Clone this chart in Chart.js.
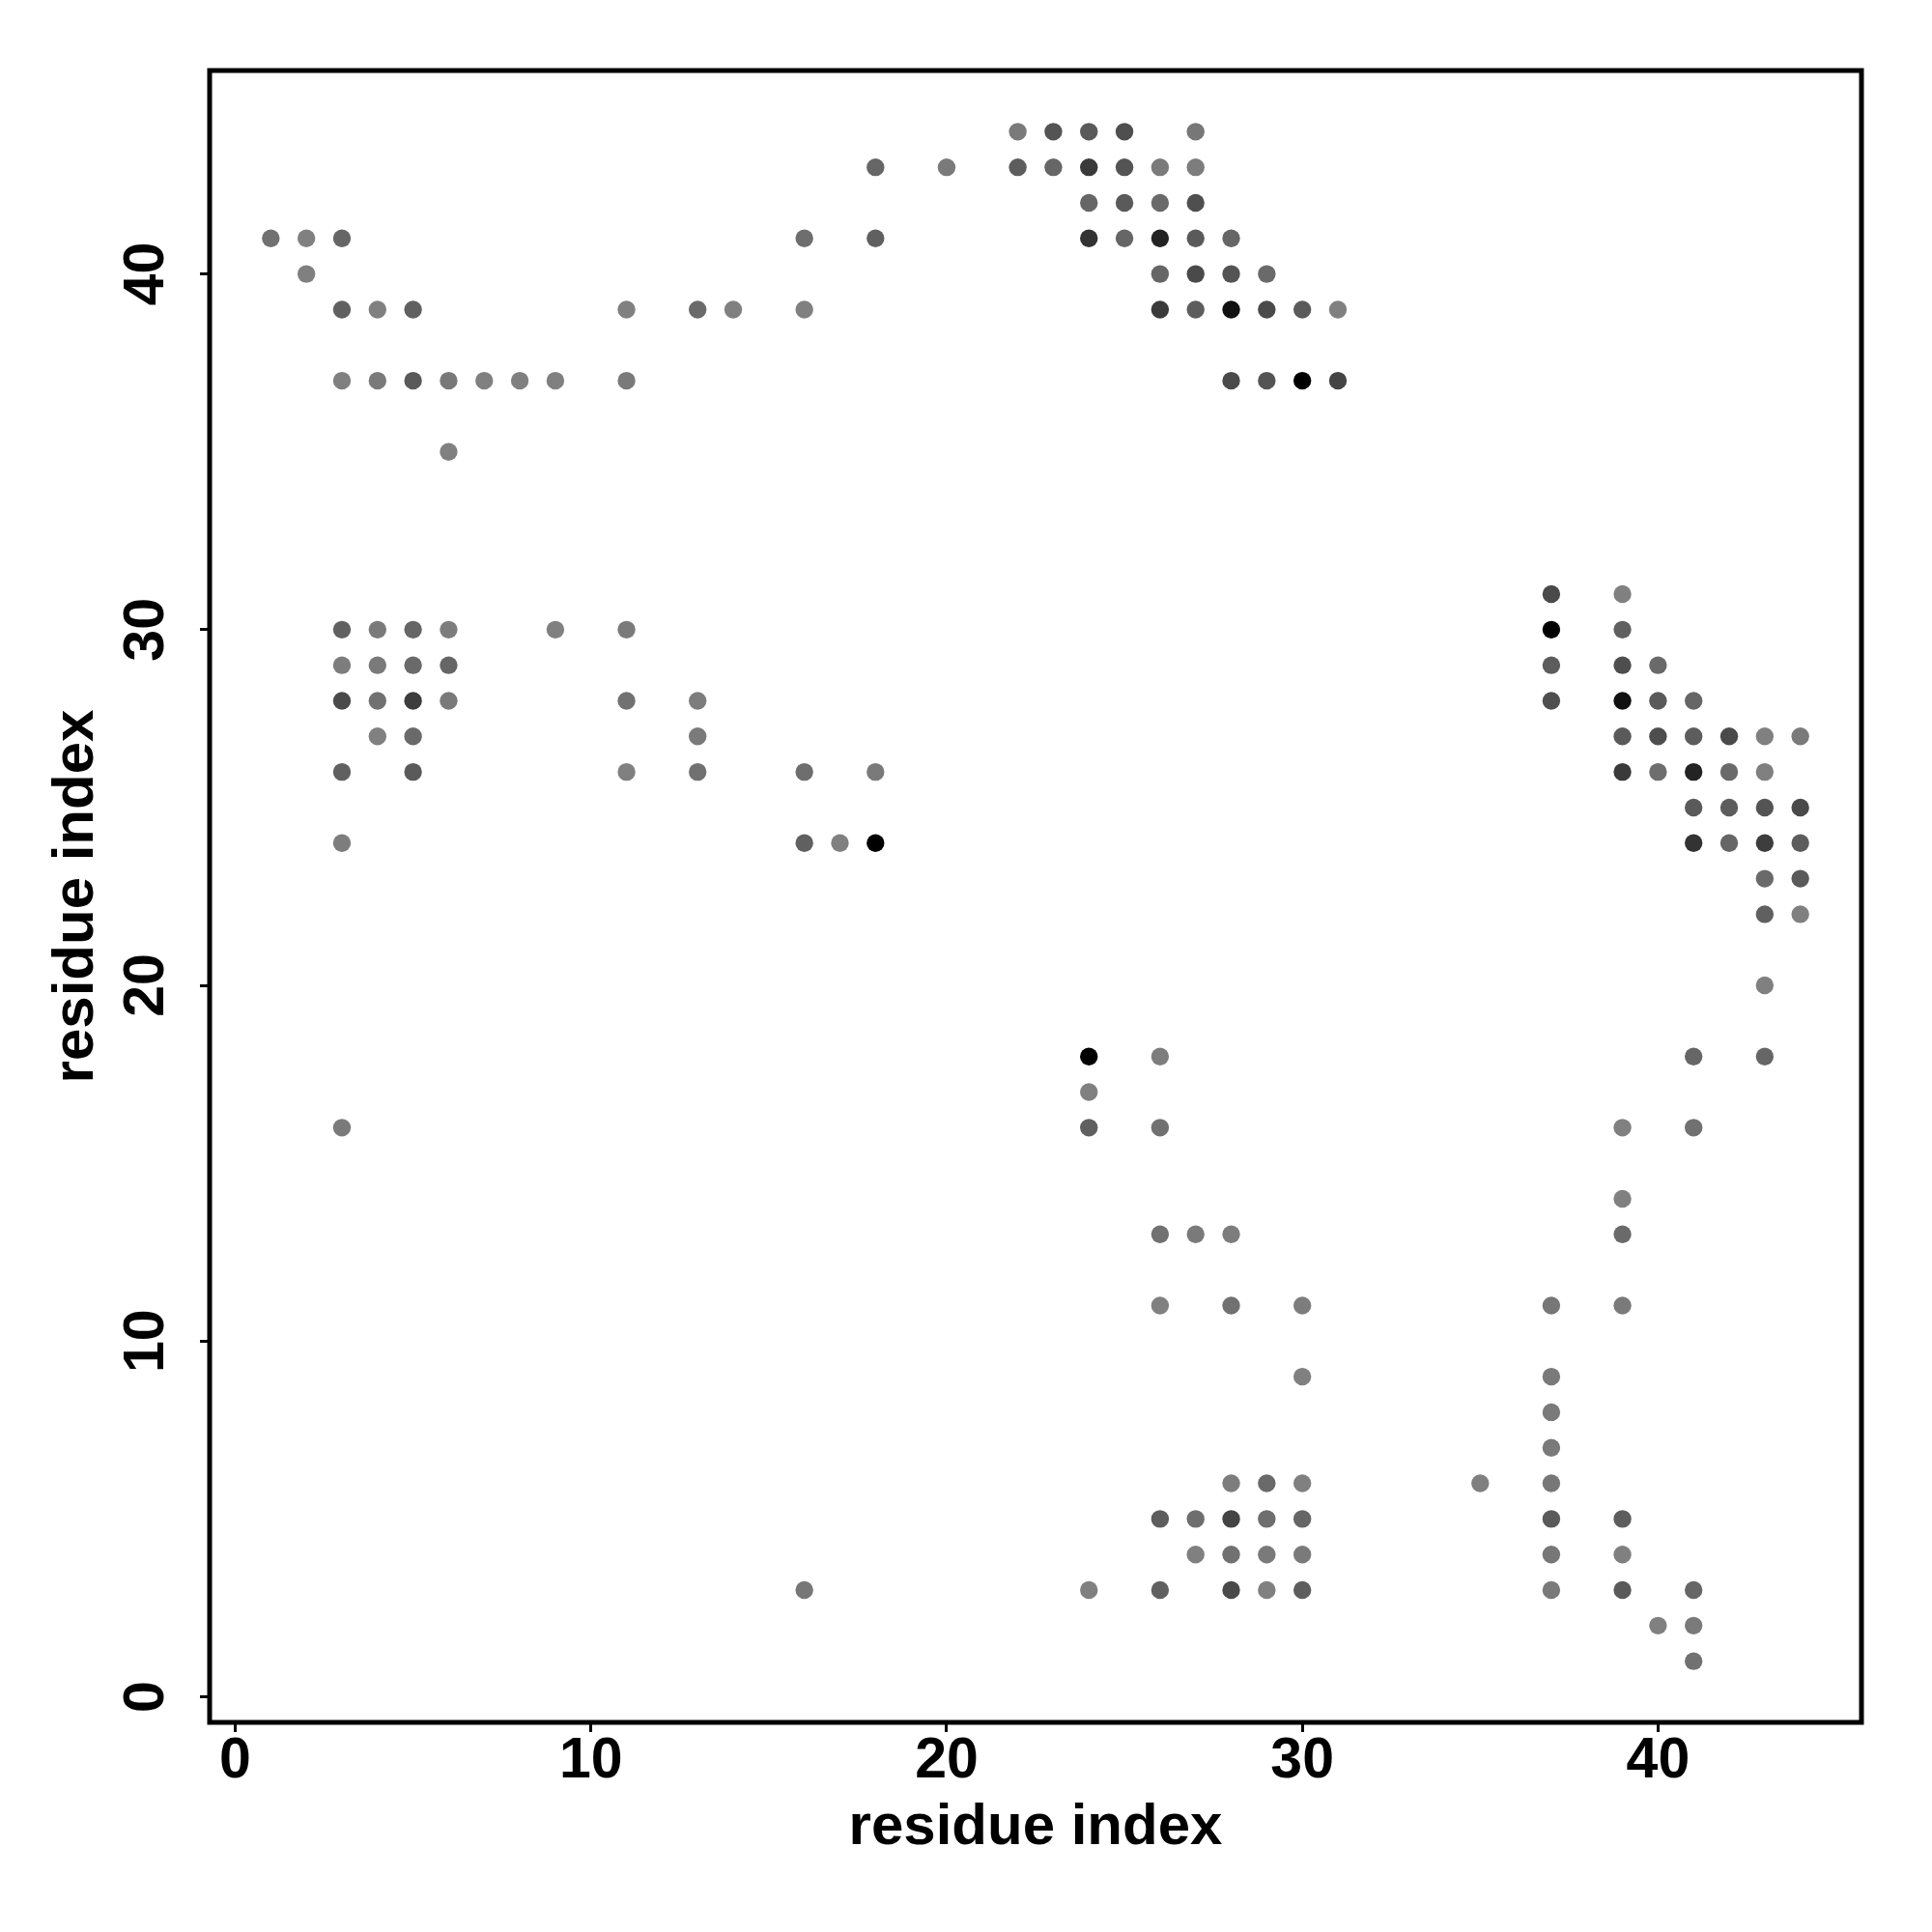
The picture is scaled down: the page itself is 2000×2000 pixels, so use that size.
<!DOCTYPE html>
<html>
<head>
<meta charset="utf-8">
<title>residue contact map</title>
<script src="https://cdn.jsdelivr.net/npm/chart.js"></script>
<style>
    body { margin: 0; background: #ffffff; }
    #wrap { width: 2000px; height: 2000px; }
</style>
</head>
<body>
<div id="wrap"><canvas id="contactChart" width="2000" height="2000"></canvas></div>
<script>
// contacts, listed row by row (residue j from top to bottom)
const contactI = [
    22, 23, 24, 25, 27,                              // j = 44
    18, 20, 22, 23, 24, 25, 26, 27,                  // 43
    24, 25, 26, 27,                                  // 42
    1, 2, 3, 16, 18, 24, 25, 26, 27, 28,             // 41
    2, 26, 27, 28, 29,                               // 40
    3, 4, 5, 11, 13, 14, 16, 26, 27, 28, 29, 30, 31, // 39
    3, 4, 5, 6, 7, 8, 9, 11, 28, 29, 30, 31,         // 37
    6,                                               // 35
    37, 39,                                          // 31
    3, 4, 5, 6, 9, 11, 37, 39,                       // 30
    3, 4, 5, 6, 37, 39, 40,                          // 29
    3, 4, 5, 6, 11, 13, 37, 39, 40, 41,              // 28
    4, 5, 13, 39, 40, 41, 42, 43, 44,                // 27
    3, 5, 11, 13, 16, 18, 39, 40, 41, 42, 43,        // 26
    41, 42, 43, 44,                                  // 25
    3, 16, 17, 18, 41, 42, 43, 44,                   // 24
    43, 44,                                          // 23
    43, 44,                                          // 22
    43,                                              // 20
    24, 26, 41, 43,                                  // 18
    24,                                              // 17
    3, 24, 26, 39, 41,                               // 16
    39,                                              // 14
    26, 27, 28, 39,                                  // 13
    26, 28, 30, 37, 39,                              // 11
    30, 37,                                          // 9
    37,                                              // 8
    37,                                              // 7
    28, 29, 30, 35, 37,                              // 6
    26, 27, 28, 29, 30, 37, 39,                      // 5
    27, 28, 29, 30, 37, 39,                          // 4
    16, 24, 26, 28, 29, 30, 37, 39, 41,              // 3
    40, 41,                                          // 2
    41                                               // 1
];

const contactJ = [
    44, 44, 44, 44, 44,
    43, 43, 43, 43, 43, 43, 43, 43,
    42, 42, 42, 42,
    41, 41, 41, 41, 41, 41, 41, 41, 41, 41,
    40, 40, 40, 40, 40,
    39, 39, 39, 39, 39, 39, 39, 39, 39, 39, 39, 39, 39,
    37, 37, 37, 37, 37, 37, 37, 37, 37, 37, 37, 37,
    35,
    31, 31,
    30, 30, 30, 30, 30, 30, 30, 30,
    29, 29, 29, 29, 29, 29, 29,
    28, 28, 28, 28, 28, 28, 28, 28, 28, 28,
    27, 27, 27, 27, 27, 27, 27, 27, 27,
    26, 26, 26, 26, 26, 26, 26, 26, 26, 26, 26,
    25, 25, 25, 25,
    24, 24, 24, 24, 24, 24, 24, 24,
    23, 23,
    22, 22,
    20,
    18, 18, 18, 18,
    17,
    16, 16, 16, 16, 16,
    14,
    13, 13, 13, 13,
    11, 11, 11, 11, 11,
    9, 9,
    8,
    7,
    6, 6, 6, 6, 6,
    5, 5, 5, 5, 5, 5, 5,
    4, 4, 4, 4, 4, 4,
    3, 3, 3, 3, 3, 3, 3, 3, 3,
    2, 2,
    1
];

// contact strength, 0 = weakest (mid grey) .. 1 = strongest (black)
const contactScore = [
    0.05, 0.34, 0.30, 0.38, 0.07,
    0.20, 0.05, 0.27, 0.20, 0.55, 0.34, 0.05, 0.02,
    0.20, 0.30, 0.17, 0.38,
    0.12, 0, 0.20, 0.14, 0.25, 0.60, 0.20, 0.73, 0.30, 0.20,
    0, 0.20, 0.42, 0.34, 0.17,
    0.25, 0, 0.25, 0, 0.17, 0, 0, 0.55, 0.27, 0.87, 0.42, 0.30, 0,
    0, 0.05, 0.30, 0.06, 0, 0, 0, 0.05, 0.42, 0.34, 1, 0.47,
    0,
    0.42, 0,
    0.25, 0.05, 0.20, 0.02, 0, 0.05, 1, 0.25,
    0.02, 0.05, 0.17, 0.20, 0.27, 0.39, 0.17,
    0.42, 0.12, 0.52, 0.05, 0.12, 0.02, 0.39, 0.87, 0.30, 0.20,
    0, 0.17, 0.05, 0.30, 0.39, 0.27, 0.42, 0, 0.05,
    0.25, 0.30, 0, 0.12, 0.14, 0.05, 0.55, 0.14, 0.73, 0.17, 0,
    0.30, 0.27, 0.34, 0.42,
    0.02, 0.25, 0, 1, 0.60, 0.20, 0.52, 0.27,
    0.17, 0.30,
    0.25, 0,
    0,
    1, 0.02, 0.20, 0.20,
    0,
    0.05, 0.25, 0.12, 0, 0.12,
    0,
    0.12, 0.05, 0.02, 0.17,
    0, 0.12, 0.02, 0.07, 0.05,
    0, 0.05,
    0.05,
    0.05,
    0.02, 0.17, 0, 0, 0.07,
    0.27, 0.14, 0.47, 0.14, 0.20, 0.30, 0.27,
    0, 0.12, 0.05, 0.05, 0.07, 0,
    0.07, 0, 0.25, 0.42, 0, 0.27, 0.05, 0.30, 0.20,
    0, 0.05,
    0.12
];

const tickValues = [0, 10, 20, 30, 40];
const axisTitle = 'residue index';

function greyFor(score) {
    const g = Math.round(128 * (1 - score));
    return 'rgb(' + g + ',' + g + ',' + g + ')';
}

const points = contactI.map((x, k) => ({ x: x, y: contactJ[k] }));

const boldFont = (size) => ({ family: 'Liberation Sans, Arial, sans-serif', weight: 'bold', size: size });

// R style box round the plot region
const frameBox = {
    id: 'frameBox',
    afterDraw(chart) {
        const a = chart.chartArea;
        const ctx = chart.ctx;
        ctx.save();
        ctx.strokeStyle = '#000';
        ctx.lineWidth = 5;
        ctx.strokeRect(a.left, a.top, a.right - a.left, a.bottom - a.top);
        ctx.restore();
    }
};

new Chart(document.getElementById('contactChart').getContext('2d'), {
    type: 'scatter',
    data: {
        datasets: [{
            data: points,
            pointRadius: 9.2,
            pointBorderWidth: 0,
            pointHoverRadius: 9.2,
            backgroundColor: (ctx) => greyFor(contactScore[ctx.dataIndex]),
            borderColor: (ctx) => greyFor(contactScore[ctx.dataIndex])
        }]
    },
    options: {
        responsive: false,
        animation: false,
        layout: { padding: { top: 73, right: 73, left: 0, bottom: 0 } },
        plugins: {
            legend: { display: false },
            tooltip: { enabled: false }
        },
        scales: {
            x: {
                type: 'linear',
                min: -0.72,
                max: 45.72,
                afterBuildTicks: (scale) => { scale.ticks = tickValues.map(v => ({ value: v })); },
                afterFit: (scale) => { scale.height = 217; },
                border: { display: false },
                grid: { drawOnChartArea: false, drawTicks: true, tickLength: 10, tickWidth: 3, tickColor: '#000', color: '#000' },
                ticks: { color: '#000', font: boldFont(59), padding: -5, maxRotation: 0, minRotation: 0 },
                title: { display: true, text: axisTitle, color: '#000', font: boldFont(60), padding: { top: 0, bottom: 72 } }
            },
            y: {
                type: 'linear',
                min: -0.72,
                max: 45.72,
                afterBuildTicks: (scale) => { scale.ticks = tickValues.map(v => ({ value: v })); },
                afterFit: (scale) => { scale.width = 217; },
                border: { display: false },
                grid: { drawOnChartArea: false, drawTicks: true, tickLength: 10, tickWidth: 3, tickColor: '#000', color: '#000' },
                ticks: { color: '#000', font: boldFont(59), padding: 21, minRotation: 90, maxRotation: 90, crossAlign: 'center' },
                title: { display: true, text: axisTitle, color: '#000', font: boldFont(60), padding: { top: 43, bottom: 0 } }
            }
        }
    },
    plugins: [frameBox]
});
</script>
</body>
</html>
